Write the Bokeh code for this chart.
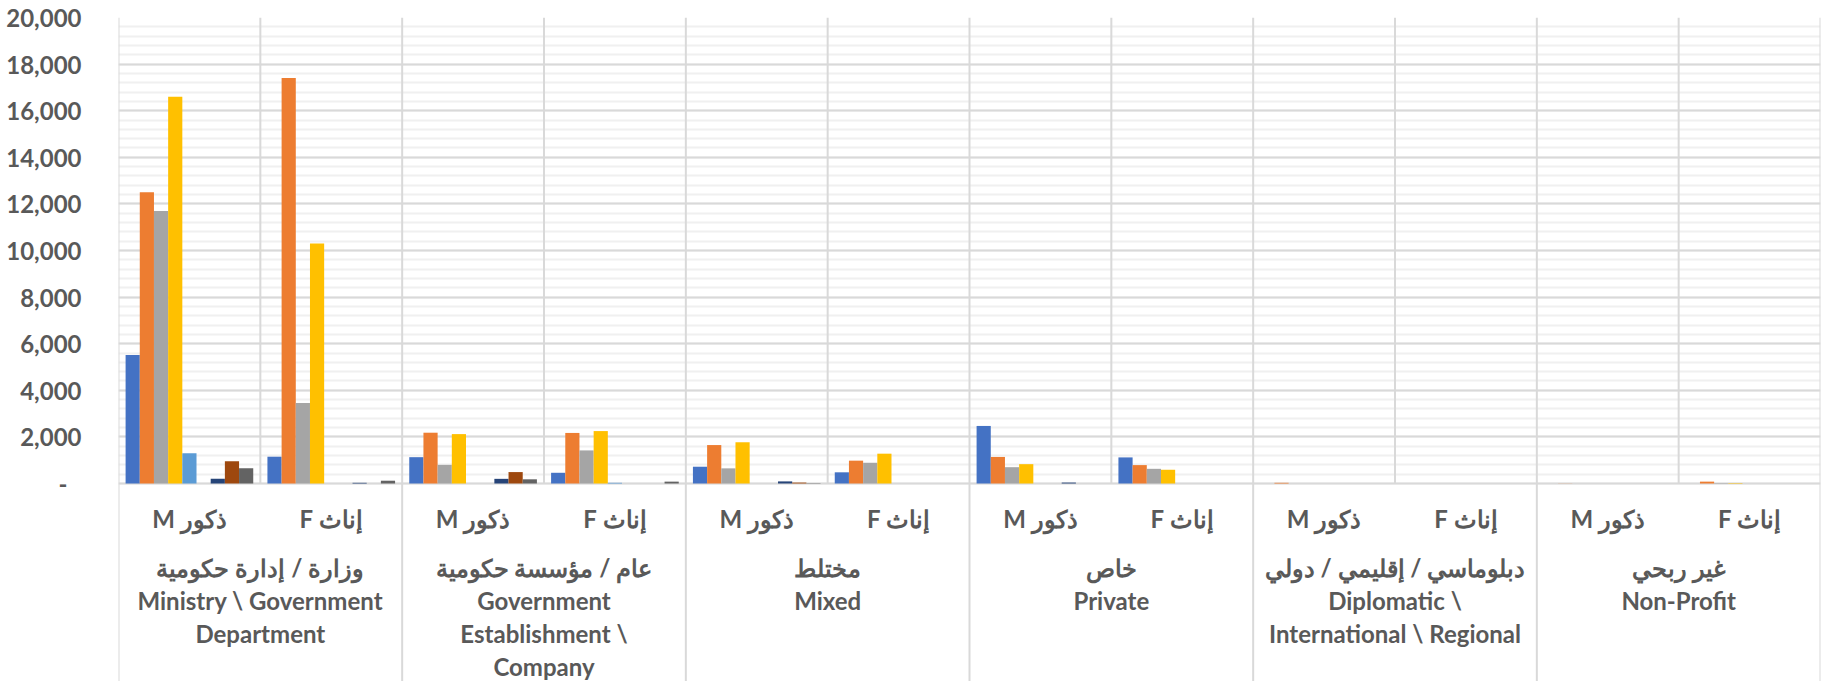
from bokeh.plotting import figure
from bokeh.models import Range1d, FixedTicker, NumeralTickFormatter, ColumnDataSource
from bokeh.core.properties import value
from bokeh.embed import file_html
from bokeh.resources import INLINE

# ---------------- data ----------------
sectors_ar = ["وزارة / إدارة حكومية", "عام / مؤسسة حكومية", "مختلط", "خاص",
              "دبلوماسي / إقليمي / دولي", "غير ربحي"]
sectors_en = ["Ministry \\ Government\nDepartment",
              "Government\nEstablishment \\\nCompany",
              "Mixed", "Private",
              "Diplomatic \\\nInternational \\ Regional",
              "Non-Profit"]
sexes = ["ذكور M", "إناث F"]

# category order: (sector, sex) -> Ministry M, Ministry F, GovEst M, GovEst F, ...
s1 = [5520, 1150, 1130, 460, 720, 480, 2470, 1120, 0, 0, 0, 0]
s2 = [12500, 17400, 2180, 2170, 1650, 980, 1140, 790, 30, 0, 5, 80]
s3 = [11700, 3450, 800, 1420, 650, 890, 700, 630, 0, 0, 0, 20]
s4 = [16600, 10300, 2120, 2250, 1770, 1280, 830, 590, 0, 0, 0, 20]
s5 = [1300, 0, 0, 30, 0, 0, 0, 0, 0, 0, 0, 0]
s6 = [0, 0, 0, 0, 0, 0, 0, 0, 0, 0, 0, 0]
s7 = [200, 30, 200, 0, 90, 0, 40, 0, 0, 0, 0, 0]
s8 = [950, 0, 490, 0, 40, 0, 0, 0, 0, 0, 0, 0]
s9 = [650, 120, 180, 80, 15, 0, 0, 0, 0, 0, 0, 0]
series = [s1, s2, s3, s4, s5, s6, s7, s8, s9]
colors = ["#4472C4", "#ED7D31", "#A5A5A5", "#FFC000", "#5B9BD5",
          "#70AD47", "#264478", "#9E480E", "#636363"]

y_ticks = list(range(0, 20001, 2000))
y_minor = list(range(0, 20001, 400))

# ---------------- layout ----------------
W, H = 1827, 681
LEFT = 118
RIGHT = 7
TOP = 17
ZERO_PX = 466                      # pixels from frame top to zero line
YMAX = 20000
ppu = ZERO_PX / YMAX               # pixels per unit
YMIN = -(H - TOP - ZERO_PX) / ppu
FONT = "Lato"
FSIZE = "24px"
TCOL = "#595959"
FIG = "\u2007"                     # figure space (digit width) for right-alignment padding


def below(px):
    return -px / ppu


ncat = len(sectors_ar) * len(sexes)
nser = len(series)
bw = 0.9 / nser

p = figure(width=W, height=H, x_range=Range1d(0, ncat), y_range=Range1d(YMIN, YMAX),
           output_backend="svg", toolbar_location=None,
           min_border_left=LEFT, min_border_right=RIGHT, min_border_top=TOP, min_border_bottom=0)
p.outline_line_color = None
p.background_fill_color = "white"
p.border_fill_color = "white"
p.xaxis.visible = False
p.xgrid.visible = False

# labels padded so that centred labels look right-aligned (accounting style "-" for zero)
ndig = len(str(max(y_ticks)))
overrides = {}
for t in y_ticks:
    if t == 0:
        overrides[t] = FIG * (ndig - 2) + "-" + FIG
    else:
        overrides[t] = FIG * (ndig - len(str(t))) + f"{t:,}"

ticker = FixedTicker(ticks=y_ticks, minor_ticks=y_minor)
ax = p.yaxis[0]
ax.ticker = ticker
ax.formatter = NumeralTickFormatter(format="0,0")
ax.major_label_overrides = overrides
ax.axis_line_color = None
ax.major_tick_line_color = None
ax.minor_tick_line_color = None
ax.major_label_standoff = 31
ax.major_label_text_font = FONT
ax.major_label_text_font_style = "bold"
ax.major_label_text_font_size = FSIZE
ax.major_label_text_color = TCOL

p.ygrid.ticker = ticker
p.ygrid.grid_line_color = "#d9d9d9"
p.ygrid.grid_line_width = 2
p.ygrid.minor_grid_line_color = "#f0f0f0"
p.ygrid.minor_grid_line_width = 2

# vertical separators
vx = list(range(ncat + 1))
vy0 = [YMIN if i % 2 == 0 else 0 for i in vx]
vy1 = [YMAX] * len(vx)
p.segment(x0=vx, x1=vx, y0=vy0, y1=vy1, line_color="#d9d9d9", line_width=2)

# bars
for j, (vals, col) in enumerate(zip(series, colors)):
    xs = [i + 0.5 + (j - (nser - 1) / 2) * bw for i in range(ncat)]
    p.vbar(x=xs, top=vals, bottom=0, width=bw, fill_color=col, line_color=None)

# labels
tx, ty, tt = [], [], []
for si in range(len(sectors_ar)):
    for k, s in enumerate(sexes):
        tx.append(si * 2 + k + 0.5)
        ty.append(below(35))
        tt.append("\u2067" + s + "\u2069")
    lines = [sectors_ar[si]] + sectors_en[si].split("\n")
    for li, ln in enumerate(lines):
        tx.append(si * 2 + 1.0)
        ty.append(below(84 + 33 * li))
        tt.append(ln)

src = ColumnDataSource(dict(x=tx, y=ty, text=tt))
p.text(x="x", y="y", text="text", source=src, text_align="center", text_baseline="middle",
       text_font=value(FONT), text_font_style="bold", text_font_size=FSIZE,
       text_color=TCOL)

open("out.html", "w").write(file_html(p, INLINE))
